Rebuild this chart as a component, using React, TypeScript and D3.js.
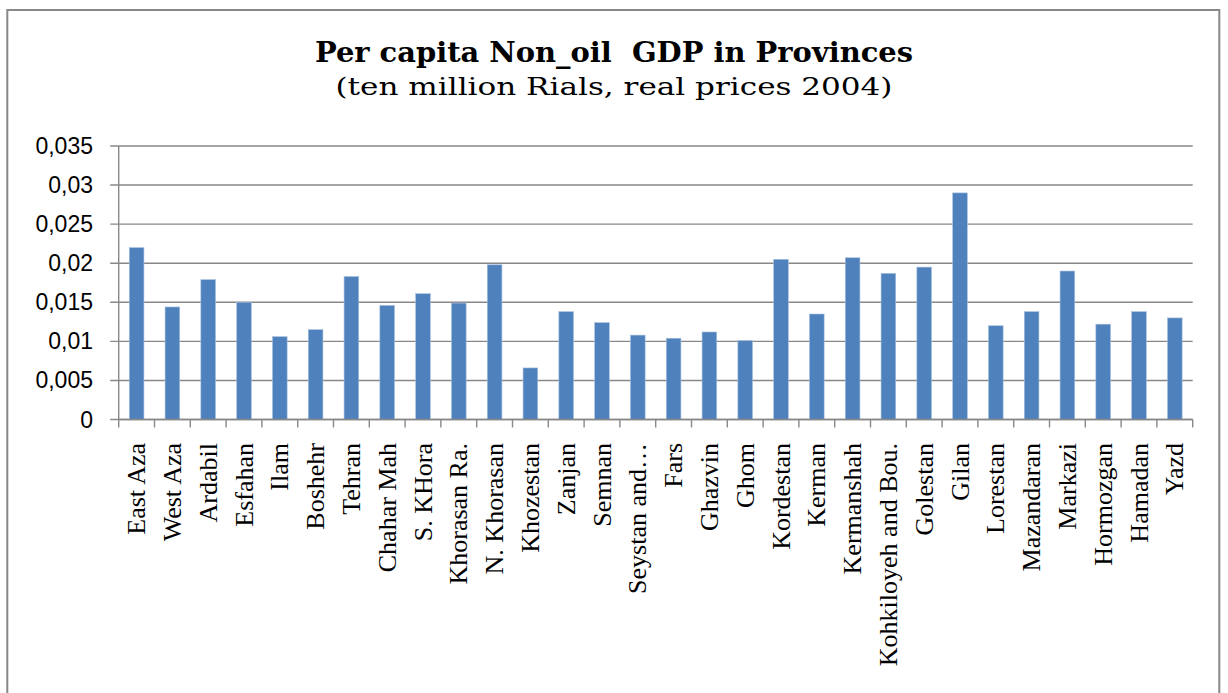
import React from "react";
import * as d3 from "d3";

const provinces: string[] = [
  "East Aza", "West Aza", "Ardabil", "Esfahan", "Ilam", "Boshehr", "Tehran",
  "Chahar Mah", "S. KHora", "Khorasan Ra.", "N. Khorasan", "Khozestan", "Zanjan",
  "Semnan", "Seystan and…", "Fars", "Ghazvin", "Ghom", "Kordestan", "Kerman",
  "Kermanshah", "Kohkiloyeh and Bou.", "Golestan", "Gilan", "Lorestan",
  "Mazandaran", "Markazi", "Hormozgan", "Hamadan", "Yazd",
];

const gdpPerCapita: number[] = [
  0.0220, 0.0144, 0.0179, 0.0150, 0.0106, 0.0115, 0.0183,
  0.0146, 0.0161, 0.0149, 0.0198, 0.0066, 0.0138,
  0.0124, 0.0108, 0.0104, 0.0112, 0.0101, 0.0205, 0.0135,
  0.0207, 0.0187, 0.0195, 0.0290, 0.0120,
  0.0138, 0.0190, 0.0122, 0.0138, 0.0130,
];

const yDomain: [number, number] = [0, 0.035];
const yTickValues: number[] = [0, 0.005, 0.01, 0.015, 0.02, 0.025, 0.03, 0.035];

const titleText = "Per capita Non_oil  GDP in Provinces";
const subtitleText = "(ten million Rials, real prices 2004)";

const W = 1228;
const H = 693;
const plot = { left: 118.7, right: 1192.7, top: 146, bottom: 419.5 };
const gray = "#888888";
const barColor = "#4F81BD";

const fmtLocale = d3.formatLocale({ decimal: ",", thousands: ".", grouping: [3], currency: ["", ""] });
const fmt = fmtLocale.format("~g");

export default function App() {
  const x = d3.scaleBand<string>().domain(provinces).range([plot.left, plot.right]).padding(0);
  const y = d3.scaleLinear().domain(yDomain).range([plot.bottom, plot.top]);
  const bw = x.bandwidth() * 0.41;
  const boundaries = d3.range(provinces.length + 1).map((i) => plot.left + i * x.step());

  return (
    <svg width={W} height={H} style={{ position: "absolute", left: 0, top: 0, background: "#fff" }}>
      <rect x={0} y={0} width={W} height={H} fill="#fff" />
      {/* outer frame */}
      <rect x={7.3} y={10} width={1212} height={H + 20} fill="none" stroke={gray} strokeWidth={2} />

      <text
        x={614}
        y={62}
        textAnchor="middle"
        fontFamily="'DejaVu Serif Condensed', 'DejaVu Serif', serif"
        fontWeight="bold"
        fontSize={27.5}
        textLength={598}
        lengthAdjust="spacingAndGlyphs"
        fill="#000"
        style={{ whiteSpace: "pre" }}
      >
        {titleText}
      </text>
      <text
        x={614}
        y={95}
        textAnchor="middle"
        fontFamily="'DejaVu Serif Condensed', 'DejaVu Serif', serif"
        fontSize={25}
        textLength={557}
        lengthAdjust="spacingAndGlyphs"
        fill="#000"
      >
        {subtitleText}
      </text>

      {/* gridlines + y ticks */}
      {yTickValues.map((v) => (
        <g key={v}>
          <line x1={plot.left - 8.5} x2={plot.right} y1={y(v)} y2={y(v)} stroke={gray} strokeWidth={1.4} />
          <text
            x={93}
            y={y(v)}
            textAnchor="end"
            dominantBaseline="central"
            fontFamily="'Liberation Sans', Arial, sans-serif"
            fontSize={23}
            fill="#000"
          >
            {fmt(v)}
          </text>
        </g>
      ))}

      {/* y axis line */}
      <line x1={plot.left} x2={plot.left} y1={plot.top} y2={plot.bottom} stroke={gray} strokeWidth={1.4} />

      {/* bars */}
      {provinces.map((p, i) => (
        <rect
          key={p}
          x={(x(p) as number) + (x.bandwidth() - bw) / 2}
          y={y(gdpPerCapita[i])}
          width={bw}
          height={y(0) - y(gdpPerCapita[i])}
          fill={barColor}
          stroke="#a9c1e0"
          strokeWidth={0.6}
        />
      ))}

      {/* x axis */}
      <line x1={plot.left} x2={plot.right} y1={plot.bottom} y2={plot.bottom} stroke={gray} strokeWidth={1.6} />
      {boundaries.map((bx, i) => (
        <line key={i} x1={bx} x2={bx} y1={plot.bottom} y2={plot.bottom + 8} stroke={gray} strokeWidth={1.4} />
      ))}

      {/* x labels */}
      {provinces.map((p) => {
        const cx = (x(p) as number) + x.bandwidth() / 2;
        return (
          <text
            key={p}
            transform={`translate(${cx},443) rotate(-90)`}
            textAnchor="end"
            dy="0.33em"
            fontFamily="'Liberation Serif', 'DejaVu Serif', serif"
            fontSize={26}
            fill="#000"
          >
            {p}
          </text>
        );
      })}
    </svg>
  );
}
